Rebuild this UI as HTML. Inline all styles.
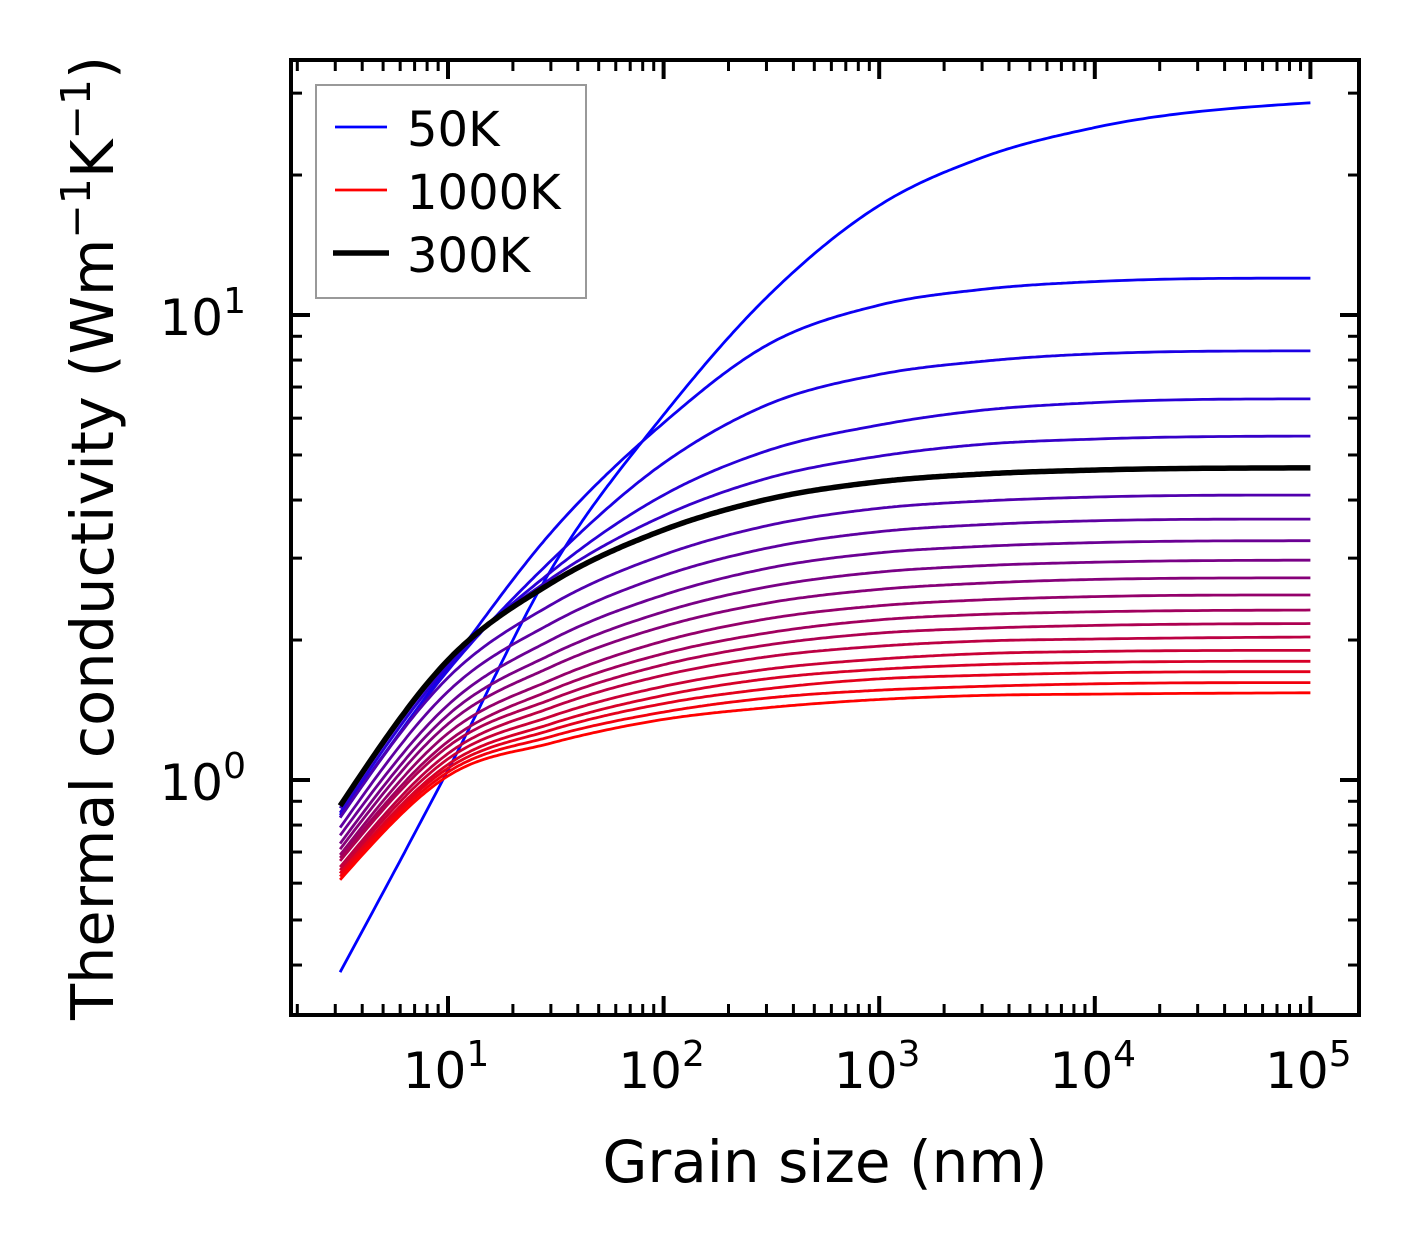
<!DOCTYPE html>
<html><head><meta charset="utf-8"><style>
html,body{margin:0;padding:0;background:#fff}
svg{display:block;font-family:"DejaVu Sans","Liberation Sans",sans-serif}
</style></head><body>
<svg id="chart" width="1421" height="1254" viewBox="0 0 1421 1254" xmlns="http://www.w3.org/2000/svg">
<rect x="0" y="0" width="1421" height="1254" fill="#fff"/>
<g id="curves"></g>
<g id="ticks"></g>
<rect x="291" y="60" width="1068" height="955" fill="none" stroke="#000" stroke-width="4"/>
<g id="labels" font-size="50"></g>
<text x="825" y="1182" font-size="58" text-anchor="middle">Grain size (nm)</text>
<text transform="translate(113,538) rotate(-90)" font-size="59" text-anchor="middle">Thermal conductivity (Wm<tspan font-size="41" dy="-23">−1</tspan><tspan dy="23">K</tspan><tspan font-size="41" dy="-23">−1</tspan><tspan dy="23">)</tspan></text>
<g>
<rect x="316" y="85" width="270" height="213" fill="#fff" stroke="#999" stroke-width="2"/>
<line x1="335" y1="127" x2="387" y2="127" stroke="#0000ff" stroke-width="2.8"/>
<text x="407" y="146" font-size="48">50K</text>
<line x1="335" y1="190" x2="387" y2="190" stroke="#ff0000" stroke-width="2.8"/>
<text x="407" y="209" font-size="48">1000K</text>
<line x1="333" y1="253" x2="389" y2="253" stroke="#000" stroke-width="5.5"/>
<text x="407" y="272" font-size="48">300K</text>
</g>
</svg>
<script>
const grainSizes = [3.16, 10, 30, 100, 300, 1000, 3000, 10000, 100000];
const temperatures = [50,100,150,200,250,300,350,400,450,500,550,600,650,700,750,800,850,900,950,1000];
const k50 = [0.386,1.05,2.83,6.1,10.9,17.2,21.8,25.3,28.6];
const k100 = [0.84,1.75,3.40,5.86,8.6,10.5,11.35,11.8,12.0];
const k150 = [0.83,1.72,2.96,4.8,6.4,7.45,7.95,8.25,8.37];
const k200 = [0.85,1.76,2.80,4.1,5.1,5.8,6.24,6.48,6.6];
const k250 = [0.87,1.79,2.71,3.7,4.45,4.97,5.27,5.41,5.49];
const k300 = [0.88,1.81,2.65,3.45,4.01,4.38,4.55,4.64,4.69];
const k350 = [0.83,1.66,2.38,3.05,3.52,3.84,3.98,4.06,4.10];
const k400 = [0.79,1.55,2.17,2.75,3.15,3.42,3.54,3.61,3.64];
const k450 = [0.76,1.45,2.00,2.50,2.85,3.08,3.18,3.24,3.27];
const k500 = [0.73,1.38,1.86,2.30,2.60,2.80,2.89,2.94,2.97];
const k550 = [0.71,1.32,1.75,2.14,2.40,2.57,2.65,2.70,2.72];
const k600 = [0.69,1.26,1.64,1.99,2.22,2.37,2.44,2.48,2.50];
const k650 = [0.68,1.21,1.56,1.87,2.07,2.21,2.27,2.30,2.32];
const k700 = [0.67,1.18,1.49,1.77,1.95,2.07,2.12,2.15,2.17];
const k750 = [0.65,1.14,1.43,1.68,1.84,1.94,1.99,2.01,2.03];
const k800 = [0.64,1.11,1.37,1.59,1.73,1.82,1.87,1.89,1.90];
const k850 = [0.63,1.08,1.32,1.52,1.65,1.73,1.77,1.79,1.80];
const k900 = [0.63,1.06,1.28,1.46,1.57,1.65,1.68,1.70,1.71];
const k950 = [0.62,1.04,1.24,1.40,1.50,1.56,1.59,1.61,1.62];
const k1000 = [0.61,1.02,1.20,1.35,1.43,1.49,1.52,1.53,1.54];
const series = [k50,k100,k150,k200,k250,k300,k350,k400,k450,k500,k550,k600,k650,k700,k750,k800,k850,k900,k950,k1000];
const xTickExps = [1,2,3,4,5];
const yTickExps = [0,1];

const NS = "http://www.w3.org/2000/svg";
const X0=448, XD=215.6, Y0=780, YD=465;
const L=291, R=1359, T=60, B=1015;
function xs(v){return X0+(Math.log10(v)-1)*XD;}
function ys(v){return Y0-Math.log10(v)*YD;}

function curvePoints(xsArr, ysArr){
  const lx=xsArr.map(Math.log10), ly=ysArr.map(Math.log10), n=lx.length;
  const d=[],h=[],m=new Array(n);
  for(let i=0;i<n-1;i++){ h.push(lx[i+1]-lx[i]); d.push((ly[i+1]-ly[i])/h[i]); }
  m[0]=d[0]; m[n-1]=d[n-2];
  for(let i=1;i<n-1;i++){
    if(d[i-1]*d[i]<=0){m[i]=0;continue;}
    m[i]=(h[i]*d[i-1]+h[i-1]*d[i])/(h[i-1]+h[i]);
    const lim=3*Math.min(Math.abs(d[i-1]),Math.abs(d[i]));
    if(Math.abs(m[i])>lim) m[i]=Math.sign(m[i])*lim;
  }
  m[0]=Math.max(0,1.5*d[0]-0.5*m[1]);
  m[n-1]=Math.max(0,1.5*d[n-2]-0.5*m[n-2]);
  const pts=[];
  for(let i=0;i<n-1;i++){ const hh=h[i];
    for(let j=0;j<40;j++){ const t=j/40, t2=t*t, t3=t2*t;
      const y=(2*t3-3*t2+1)*ly[i]+(t3-2*t2+t)*hh*m[i]+(-2*t3+3*t2)*ly[i+1]+(t3-t2)*hh*m[i+1];
      pts.push([xs(Math.pow(10,lx[i]+t*hh)), ys(Math.pow(10,y))]); } }
  pts.push([xs(xsArr[n-1]), ys(ysArr[n-1])]);
  return pts.map(p=>p[0].toFixed(1)+","+p[1].toFixed(1)).join(" ");
}
const cg=document.getElementById("curves");
const order=[];
series.forEach((s,i)=>{ if(temperatures[i]!==300) order.push(i); });
order.push(temperatures.indexOf(300));
order.forEach(i=>{
  const Tk=temperatures[i];
  const pl=document.createElementNS(NS,"polyline");
  pl.setAttribute("points", curvePoints(grainSizes, series[i]));
  let col;
  if(Tk===300) col="#000"; else { const r=(Tk-50)/950; col="rgb("+Math.round(255*r)+",0,"+Math.round(255*(1-r))+")"; }
  pl.setAttribute("fill","none"); pl.setAttribute("stroke",col);
  pl.setAttribute("stroke-linejoin","round");
  pl.setAttribute("stroke-width", Tk===300?5.5:2.8);
  
  
  cg.appendChild(pl);
});

const tg=document.getElementById("ticks");
function ln(x1,y1,x2,y2,w,name){
  const e=document.createElementNS(NS,"line");
  e.setAttribute("x1",x1);e.setAttribute("y1",y1);e.setAttribute("x2",x2);e.setAttribute("y2",y2);
  e.setAttribute("stroke","#000");e.setAttribute("stroke-width",w);
  
  
  tg.appendChild(e);
}
for(let e=0;e<=5;e++) for(let k=1;k<=9;k++){
  const v=k*Math.pow(10,e), x=xs(v);
  if(x<L+2||x>R-2) continue;
  const len=k===1?19:11, w=k===1?4:3;
  ln(x,B,x,B-len,w,"x-tick"); ln(x,T,x,T+len,w,"x-tick-top");
}
for(let e=-1;e<=1;e++) for(let k=1;k<=9;k++){
  const v=k*Math.pow(10,e), y=ys(v);
  if(y<T+2||y>B-2) continue;
  const len=k===1?19:11, w=k===1?4:3;
  ln(L,y,L+len,y,w,"y-tick"); ln(R,y,R-len,y,w,"y-tick-right");
}
const lg=document.getElementById("labels");
function lbl(x,y,exp,anchor,name){
  const t=document.createElementNS(NS,"text");
  t.setAttribute("x",x);t.setAttribute("y",y);t.setAttribute("text-anchor",anchor);
  t.innerHTML='10<tspan font-size="36" dy="-22">'+exp+'</tspan>';
  
  
  lg.appendChild(t);
}
xTickExps.forEach(e=>lbl(xs(Math.pow(10,e))-2,1088,e,"middle","x-tick-label"));
yTickExps.forEach(e=>lbl(246,ys(Math.pow(10,e))+20,e,"end","y-tick-label"));
</script>
</body></html>
